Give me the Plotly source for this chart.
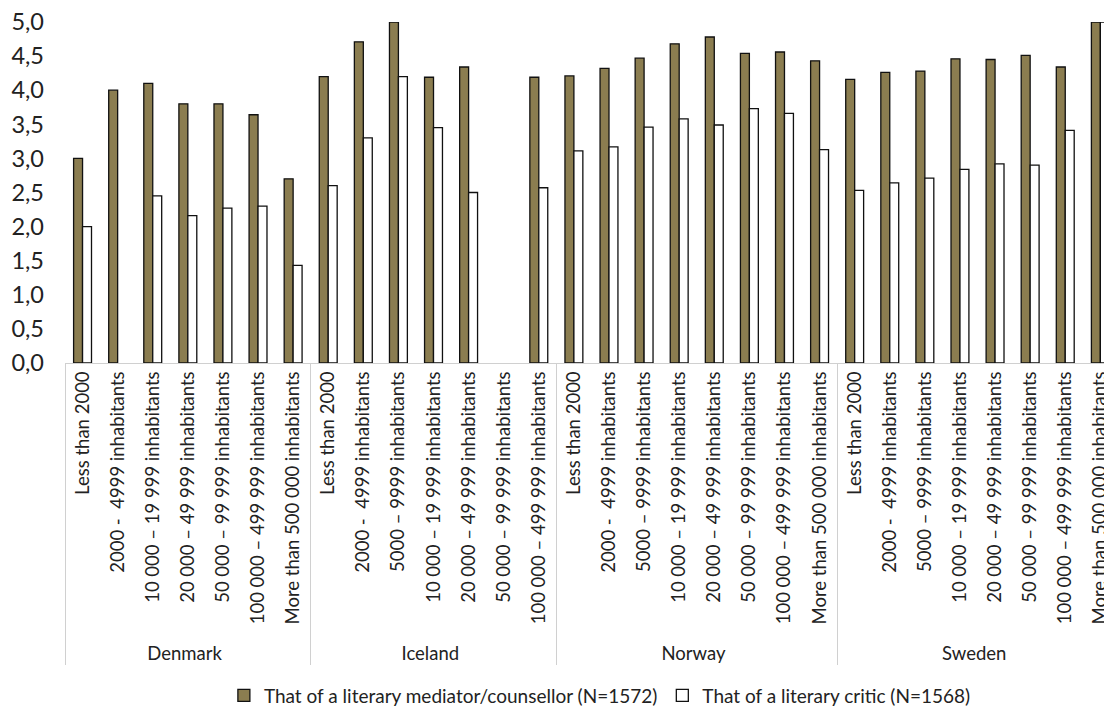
import plotly.graph_objects as go

countries = (["Denmark"] * 7 + ["Iceland"] * 7 + ["Norway"] * 8 + ["Sweden"] * 8)
sizes_dk = ["Less than 2000", "2000 -  4999 inhabitants", "10 000 – 19 999 inhabitants",
            "20 000 – 49 999 inhabitants", "50 000 – 99 999 inhabitants",
            "100 000 – 499 999 inhabitants", "More than 500 000 inhabitants"]
sizes_is = ["Less than 2000", "2000 -  4999 inhabitants", "5000 – 9999 inhabitants",
            "10 000 – 19 999 inhabitants", "20 000 – 49 999 inhabitants",
            "50 000 – 99 999 inhabitants", "100 000 – 499 999 inhabitants"]
sizes_full = ["Less than 2000", "2000 -  4999 inhabitants", "5000 – 9999 inhabitants",
              "10 000 – 19 999 inhabitants", "20 000 – 49 999 inhabitants",
              "50 000 – 99 999 inhabitants", "100 000 – 499 999 inhabitants",
              "More than 500 000 inhabitants"]
sizes = sizes_dk + sizes_is + sizes_full + sizes_full

mediator = [3.00, 4.00, 4.10, 3.80, 3.80, 3.64, 2.70,
            4.20, 4.71, 5.00, 4.19, 4.34, None, 4.19,
            4.21, 4.32, 4.47, 4.68, 4.78, 4.54, 4.56, 4.43,
            4.16, 4.26, 4.28, 4.46, 4.45, 4.51, 4.34, 5.00]
critic = [2.00, None, 2.45, 2.16, 2.27, 2.30, 1.43,
          2.60, 3.30, 4.20, 3.45, 2.50, None, 2.57,
          3.11, 3.17, 3.46, 3.58, 3.49, 3.73, 3.66, 3.13,
          2.53, 2.64, 2.71, 2.84, 2.92, 2.90, 3.41, 5.00]

series_names = ["That of a literary mediator/counsellor (N=1572)",
                "That of a literary critic (N=1568)"]
y_ticks = [0, 0.5, 1, 1.5, 2, 2.5, 3, 3.5, 4, 4.5, 5]

# order helpers: outer categories and inner categories in the order of first appearance
order_outer = ["Denmark", "Denmark", "Iceland", "Denmark", "Denmark", "Denmark", "Denmark",
               "Denmark", "Norway", "Sweden"]
order_inner = sizes_full + ["Less than 2000", "Less than 2000"]

FONT = "Lato"
TXT = "#222222"
fig = go.Figure()
fig.add_trace(go.Scatter(x=[order_outer, order_inner], y=[None] * len(order_inner),
                         mode="markers", showlegend=False, hoverinfo="skip"))
fig.add_trace(go.Bar(x=[countries, sizes], y=mediator, name=series_names[0],
                     marker=dict(color="#8B7D50", line=dict(color="#111111", width=1.3))))
fig.add_trace(go.Bar(x=[countries, sizes], y=critic, name=series_names[1],
                     marker=dict(color="#FFFFFF", line=dict(color="#111111", width=1.3))))

fig.update_layout(
    width=1112, height=713,
    margin=dict(l=57, r=0, t=14, b=358, autoexpand=False),
    paper_bgcolor="white", plot_bgcolor="white",
    separators=",.",
    barmode="group", bargap=0.49, bargroupgap=0,
    font=dict(family=FONT, color=TXT),
    showlegend=True,
    legend=dict(orientation="h", x=0.507, xanchor="center", y=-0.975, yanchor="middle",
                font=dict(size=19, family=FONT, color=TXT),
                traceorder="normal", itemwidth=30),
    xaxis=dict(type="multicategory", range=[-0.5, 29.56], tickangle=-90, automargin=False,
               tickfont=dict(size=18.5, family=FONT, color=TXT), ticklabeloverflow="allow",
               showline=True, linecolor="#D0D0D0", linewidth=1,
               showdividers=True, dividercolor="#D0D0D0", dividerwidth=1,
               ticks="", showgrid=False),
    yaxis=dict(range=[0, 5], tickvals=y_ticks, tickformat=".1f", automargin=False,
               tickfont=dict(size=23.5, family=FONT, color=TXT), ticklabelstandoff=20,
               ticklabeloverflow="allow",
               showgrid=False, zeroline=False, showline=False, ticks=""),
)

fig.write_html("out.html")
